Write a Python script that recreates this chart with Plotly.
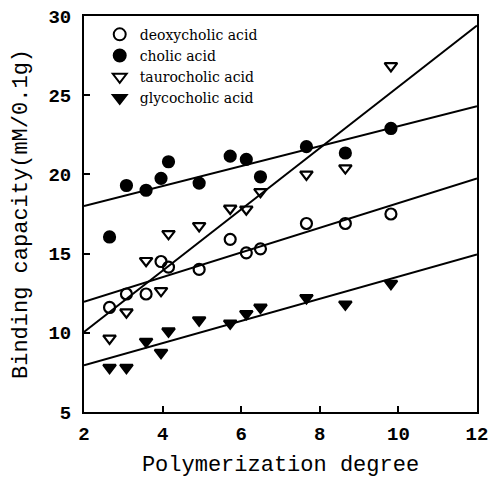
import plotly.graph_objects as go

# Polymerization degree (x) for each measured sample
degree = [2.65, 3.08, 3.58, 3.96, 4.15, 4.93, 5.72, 6.13, 6.49, 7.66, 8.65, 9.81]

deoxycholic = [11.6, 12.45, 12.45, 14.5, 14.15, 14.0, 15.9, 15.05, 15.3, 16.9, 16.9, 17.5]
cholic = [16.05, 19.3, 19.0, 19.75, 20.8, 19.45, 21.15, 20.95, 19.85, 21.75, 21.35, 22.9]
taurocholic = [9.65, 11.3, 14.55, 12.65, 16.25, 16.75, 17.85, 17.8, 18.9, 20.0, 20.4, 26.85]
glycocholic = [7.8, 7.8, 9.45, 8.75, 10.1, 10.8, 10.6, 11.2, 11.6, 12.2, 11.8, 13.1]

# Fitted regression lines: values at the ends of the x range
fit_x = [2, 12]
deoxycholic_fit = [11.95, 19.75]
cholic_fit = [18.0, 24.3]
taurocholic_fit = [10.05, 29.4]
glycocholic_fit = [7.95, 14.95]

x_ticks = [2, 4, 6, 8, 10, 12]
y_ticks = [5, 10, 15, 20, 25, 30]

series = [
    ("deoxycholic acid", deoxycholic, deoxycholic_fit, "circle-open", 11),
    ("cholic acid", cholic, cholic_fit, "circle", 11),
    ("taurocholic acid", taurocholic, taurocholic_fit, "triangle-down-open", 11),
    ("glycocholic acid", glycocholic, glycocholic_fit, "triangle-down", 11),
]

fig = go.Figure()
for name, vals, fit, sym, sz in series:
    fig.add_trace(go.Scatter(
        x=fit_x, y=fit, mode="lines", line=dict(color="black", width=2),
        showlegend=False, hoverinfo="skip"))
for name, vals, fit, sym, sz in series:
    fig.add_trace(go.Scatter(
        x=degree, y=vals, mode="markers", name=name,
        marker=dict(symbol=sym, size=sz, color="black",
                    line=dict(color="black", width=2.2))))

axis_common = dict(
    showline=True, linecolor="black", linewidth=2, mirror=True,
    ticks="inside", ticklen=6, tickwidth=1.5, tickcolor="black",
    showgrid=False, zeroline=False, automargin=False,
    tickfont=dict(family="Liberation Mono", size=19, color="black", weight="bold"),
)

fig.update_layout(
    width=494, height=478,
    margin=dict(l=84, r=17, t=16, b=66),
    paper_bgcolor="white", plot_bgcolor="white",
    xaxis=dict(range=[2, 12], tickvals=x_ticks, ticklabelstandoff=3,
               title=dict(text="Polymerization degree",
                          font=dict(family="Liberation Mono", size=22, color="black")),
               **axis_common),
    yaxis=dict(range=[5, 30], tickvals=y_ticks, ticklabelstandoff=7,
               title=dict(text="Binding capacity(mM/0.1g)",
                          font=dict(family="Liberation Mono", size=22, color="black")),
               **axis_common),
    legend=dict(x=0.04, y=0.993, xanchor="left", yanchor="top",
                bgcolor="rgba(0,0,0,0)", borderwidth=0,
                font=dict(family="DejaVu Serif", size=14, color="black"),
                itemsizing="constant", tracegroupgap=0),
    showlegend=True,
)

fig.write_html("out.html")
